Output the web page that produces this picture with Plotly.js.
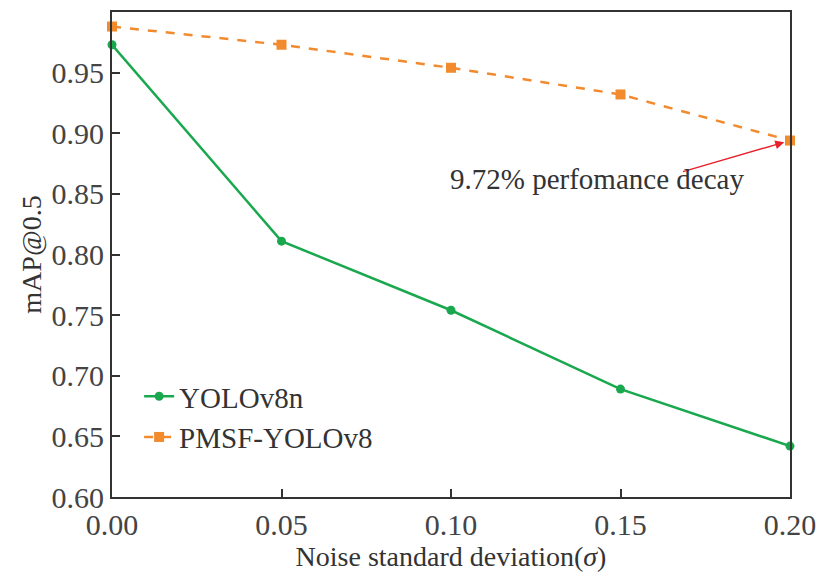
<!DOCTYPE html>
<html>
<head>
<script src="https://cdn.plot.ly/plotly-3.0.1.min.js"></script>
<style>body{margin:0;background:#fff}</style>
</head>
<body>
<div id="chart" style="width:822px;height:581px"></div>
<script>
// ---------- DATA ----------
const noise = [0.00, 0.05, 0.10, 0.15, 0.20];
const yoloV8n = [0.973, 0.811, 0.754, 0.689, 0.642];
const pmsfYolo = [0.988, 0.973, 0.954, 0.932, 0.894];
const yTicks = [0.60, 0.65, 0.70, 0.75, 0.80, 0.85, 0.90, 0.95, 1.00];

const font = "Liberation Serif, Times New Roman, serif";

const traces = [
  {
    x: noise, y: yoloV8n, name: "YOLOv8n",
    type: "scatter", mode: "lines+markers",
    line: { color: "#1aa84f", width: 2.5 },
    marker: { symbol: "circle", size: 9, color: "#1aa84f" },
    cliponaxis: false
  },
  {
    x: noise, y: pmsfYolo, name: "PMSF-YOLOv8",
    type: "scatter", mode: "lines+markers",
    line: { color: "#f28a2e", width: 2.5, dash: "dash" },
    marker: { symbol: "square", size: 10, color: "#f28a2e" },
    cliponaxis: false
  }
];

const axisBase = {
  showline: true, mirror: true, linecolor: "#333", linewidth: 2,
  ticks: "inside", ticklen: 8, tickwidth: 1.5, tickcolor: "#333",
  showgrid: false, zeroline: false,
  tickfont: { family: font, size: 30, color: "#444" }
};

const layout = {
  margin: { l: 112, r: 32, t: 12, b: 84 },
  paper_bgcolor: "#fff", plot_bgcolor: "#fff",
  font: { family: font, color: "#333" },
  xaxis: Object.assign({}, axisBase, {
    range: [0, 0.20], tickvals: noise, ticktext: ["0.00", "0.05", "0.10", "0.15", "0.20"],
    title: { text: "Noise standard deviation(<i>σ</i>)", font: { family: font, size: 28 }, standoff: 6 }
  }),
  yaxis: Object.assign({}, axisBase, {
    range: [0.60, 1.00], tickvals: yTicks, ticktext: yTicks.map(v => v.toFixed(2)),
    title: { text: "mAP@0.5", font: { family: font, size: 28 }, standoff: 2 }
  }),
  showlegend: true,
  legend: {
    x: 0.04, y: 0.26, xanchor: "left", yanchor: "top",
    font: { family: font, size: 29, color: "#333" },
    bgcolor: "rgba(0,0,0,0)"
  },
  annotations: [{
    x: 0.20, y: 0.894, xref: "x", yref: "y",
    ax: 0.168, ay: 0.868, axref: "x", ayref: "y",
    text: "", showarrow: true, arrowhead: 2, arrowsize: 1.2,
    arrowwidth: 1.5, arrowcolor: "#e8202a", standoff: 6
  }, {
    x: 0.143, y: 0.862, xref: "x", yref: "y",
    text: "9.72% perfomance decay", showarrow: false,
    font: { family: font, size: 29, color: "#333" }
  }]
};

Plotly.newPlot("chart", traces, layout, { displayModeBar: false });
</script>
</body>
</html>
